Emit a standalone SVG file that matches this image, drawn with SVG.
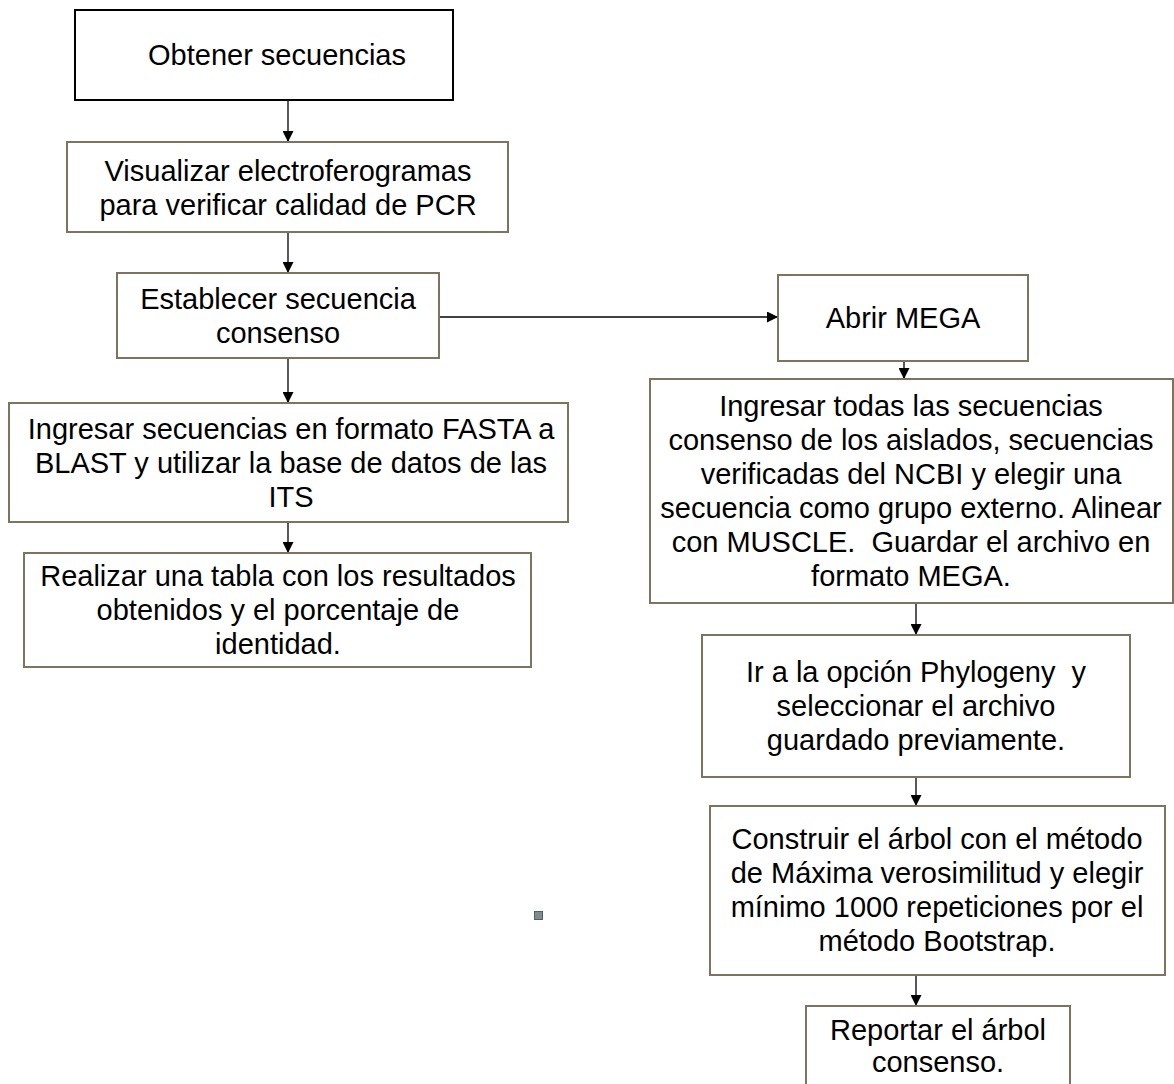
<svg xmlns="http://www.w3.org/2000/svg" width="1174" height="1084" viewBox="0 0 1174 1084">
<style>
.box{fill:#fff;stroke:#7d735f;stroke-width:2}
.b1{fill:#fff;stroke:#000;stroke-width:2}
.t{font-family:'Liberation Sans',Arial,sans-serif;font-size:29px;text-anchor:middle;fill:#000}
.c{stroke:#000;stroke-width:1.3;fill:none;marker-end:url(#ah)}
</style>
<defs>
<marker id="ah" markerUnits="userSpaceOnUse" markerWidth="11" markerHeight="11" refX="11" refY="5.5" orient="auto">
<path d="M0,0 L11,5.5 L0,11 z" fill="#000"/>
</marker>
</defs>
<rect width="1174" height="1084" fill="#fff"/>
<g id="connectors">
<line class="c" x1="288" y1="100" x2="288" y2="142"/>
<line class="c" x1="288" y1="232" x2="288" y2="273"/>
<line class="c" x1="288" y1="358" x2="288" y2="403"/>
<line class="c" x1="288" y1="522" x2="288" y2="553"/>
<line class="c" x1="439" y1="317" x2="778" y2="317"/>
<line class="c" x1="904" y1="361" x2="904" y2="379"/>
<line class="c" x1="916" y1="603" x2="916" y2="635"/>
<line class="c" x1="916" y1="777" x2="916" y2="806"/>
<line class="c" x1="916" y1="975" x2="916" y2="1006"/>
</g>
<g id="n1">
<rect class="b1" x="75" y="10" width="378" height="90"/>
<text class="t" x="277" y="65">Obtener secuencias</text>
</g>
<g id="n2">
<rect class="box" x="67" y="142" width="441" height="90"/>
<text class="t" x="288" y="181">Visualizar electroferogramas</text>
<text class="t" x="288" y="215">para verificar calidad de PCR</text>
</g>
<g id="n3">
<rect class="box" x="117" y="273" width="322" height="85"/>
<text class="t" x="278" y="309">Establecer secuencia</text>
<text class="t" x="278" y="343">consenso</text>
</g>
<g id="n4">
<rect class="box" x="778" y="275" width="250" height="86"/>
<text class="t" x="903" y="328">Abrir MEGA</text>
</g>
<g id="n5">
<rect class="box" x="9" y="403" width="559" height="119"/>
<text class="t" x="291" y="439">Ingresar secuencias en formato FASTA a</text>
<text class="t" x="291" y="473">BLAST y utilizar la base de datos de las</text>
<text class="t" x="291" y="507">ITS</text>
</g>
<g id="n6">
<rect class="box" x="24" y="553" width="507" height="114"/>
<text class="t" x="278" y="586">Realizar una tabla con los resultados</text>
<text class="t" x="278" y="620">obtenidos y el porcentaje de</text>
<text class="t" x="278" y="654">identidad.</text>
</g>
<g id="n7">
<rect class="box" x="650" y="379" width="523" height="224"/>
<text class="t" x="911" y="416">Ingresar todas las secuencias</text>
<text class="t" x="911" y="450">consenso de los aislados, secuencias</text>
<text class="t" x="911" y="484">verificadas del NCBI y elegir una</text>
<text class="t" x="911" y="518">secuencia como grupo externo. Alinear</text>
<text class="t" x="911" y="552">con MUSCLE.&#160; Guardar el archivo en</text>
<text class="t" x="911" y="586">formato MEGA.</text>
</g>
<g id="n8">
<rect class="box" x="702" y="635" width="428" height="142"/>
<text class="t" x="916" y="682">Ir a la opción Phylogeny&#160; y</text>
<text class="t" x="916" y="716">seleccionar el archivo</text>
<text class="t" x="916" y="750">guardado previamente.</text>
</g>
<g id="n9">
<rect class="box" x="710" y="806" width="455" height="169"/>
<text class="t" x="937" y="849">Construir el árbol con el método</text>
<text class="t" x="937" y="883">de Máxima verosimilitud y elegir</text>
<text class="t" x="937" y="917">mínimo 1000 repeticiones por el</text>
<text class="t" x="937" y="951">método Bootstrap.</text>
</g>
<g id="n10">
<rect class="box" x="806" y="1006" width="264" height="90"/>
<text class="t" x="938" y="1040">Reportar el árbol</text>
<text class="t" x="938" y="1072">consenso.</text>
</g>
<rect x="534.5" y="911.5" width="8" height="8" fill="#7d8c8c" stroke="#55605f" stroke-width="1"/>
</svg>
